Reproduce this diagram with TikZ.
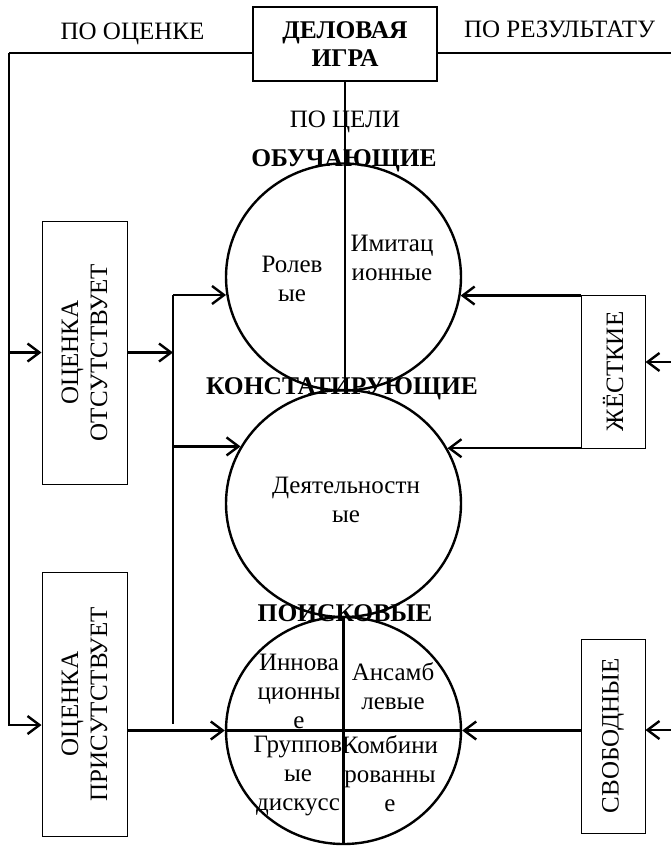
\documentclass[tikz,border=0pt]{standalone}
\usepackage{fontspec}
\setmainfont{Liberation Serif}
\usetikzlibrary{arrows.meta,positioning,shapes.geometric}

\begin{document}
\begin{tikzpicture}[x=1pt, y=-1pt, line width=2.4pt,
    font=\fontsize{25}{29}\selectfont,
    arr/.style={-{Straight Barb[length=12pt,width=18pt]}},
    oval/.style={draw, ellipse, minimum width=235pt, minimum height=227pt, inner sep=0pt},
    kind/.style={draw, line width=1pt, rotate=90, inner sep=0pt, align=center},
    txt/.style={align=center},
    title/.style={font=\fontsize{25.5}{28}\selectfont\bfseries, align=center}]

            \useasboundingbox (0,0) rectangle (670,846);

            % Define center points
            \node[draw, title, minimum width=184pt, minimum height=74pt] (game) at (345,44) {ДЕЛОВАЯ\\ИГРА};
            \node[oval] (c1) at (343.5,277) {};
            \node[oval] (c2) at (343.5,503.5) {};
            \node[oval] (c3) at (343.5,730.5) {};
            % rotated boxes: north is left, south is right
            \node[kind, minimum width=263pt, minimum height=85pt] (absent) at (84.5,352.5) {ОЦЕНКА\\ОТСУТСТВУЕТ};
            \node[kind, minimum width=264pt, minimum height=85pt] (present) at (84.5,704) {ОЦЕНКА\\ПРИСУТСТВУЕТ};
            \node[kind, minimum width=153pt, minimum height=64pt] (hard) at (613,371.5) {ЖЁСТКИЕ};
            \node[kind, minimum width=194pt, minimum height=64pt] (free) at (613,736) {СВОБОДНЫЕ};

            \coordinate (lt) at (9,53);
            \coordinate (lb) at (9,725);
            \coordinate (rt) at (672,53);
            \coordinate (rh) at (672,362);
            \coordinate (rb) at (672,730);
            \coordinate (mt) at (173,295);
            \coordinate (mb) at (173,724);

            \draw (game.west |- lt) -- (lt);
            \draw[arr] (lt) -- (lb) -- (lb -| present.north);
            \draw[arr] (lt |- absent.north) -- (absent.north);
            \draw (game.east |- rt) -- (rt) -- (rb);
            \draw[arr] (rh) -- (rh -| hard.south);
            \draw[arr] (rb) -- (rb -| free.south);
            \draw (game.south) -- (game.south |- c1.south);
            \draw (c3.north) -- (c3.south);
            \draw (c3.west) -- (c3.east);

            \draw (mt) -- (mb);
            \draw[arr] (absent.south) -- (absent.south -| mt);
            \draw[arr] (mt) -- (mt -| c1.188.8);
            \draw[arr] (mt |- c2.151.4) -- (c2.151.4);
            \draw[arr] (c3.west -| present.south) -- (c3.west);
            \draw[arr] (c1.351.2 -| hard.north) -- (c1.351.2);
            \draw[arr] (c2.28.6 -| hard.north) -- (c2.28.6);
            \draw[arr] (c3.east -| free.north) -- (c3.east);

            \node (byeval) at (132.5,34) {ПО ОЦЕНКЕ};
            \node (byres) at (559.5,29) {ПО РЕЗУЛЬТАТУ};
            \node (bygoal) at (345,122) {ПО ЦЕЛИ};
            \node[title] (learn) at (344,161) {ОБУЧАЮЩИЕ};
            \node[title] (state) at (342,389) {КОНСТАТИРУЮЩИЕ};
            \node[title] (search) at (345,613) {ПОИСКОВЫЕ};

            \node[txt] (role) at (292,279) {Ролев\\ые};
            \node[txt] (imit) at (392,258) {Имитац\\ионные};
            \node[txt] (activ) at (346,500) {Деятельностн\\ые};
            \node[txt] (innov) at (299,691) {Иннова\\ционны\\е};
            \node[txt] (ensem) at (393,686) {Ансамб\\левые};
            \node[txt] (group) at (298,776) {Группов\\ые\\дискусс};
            \node[txt] (combi) at (390,774) {Комбини\\рованны\\е};
        \end{tikzpicture}
\end{document}
